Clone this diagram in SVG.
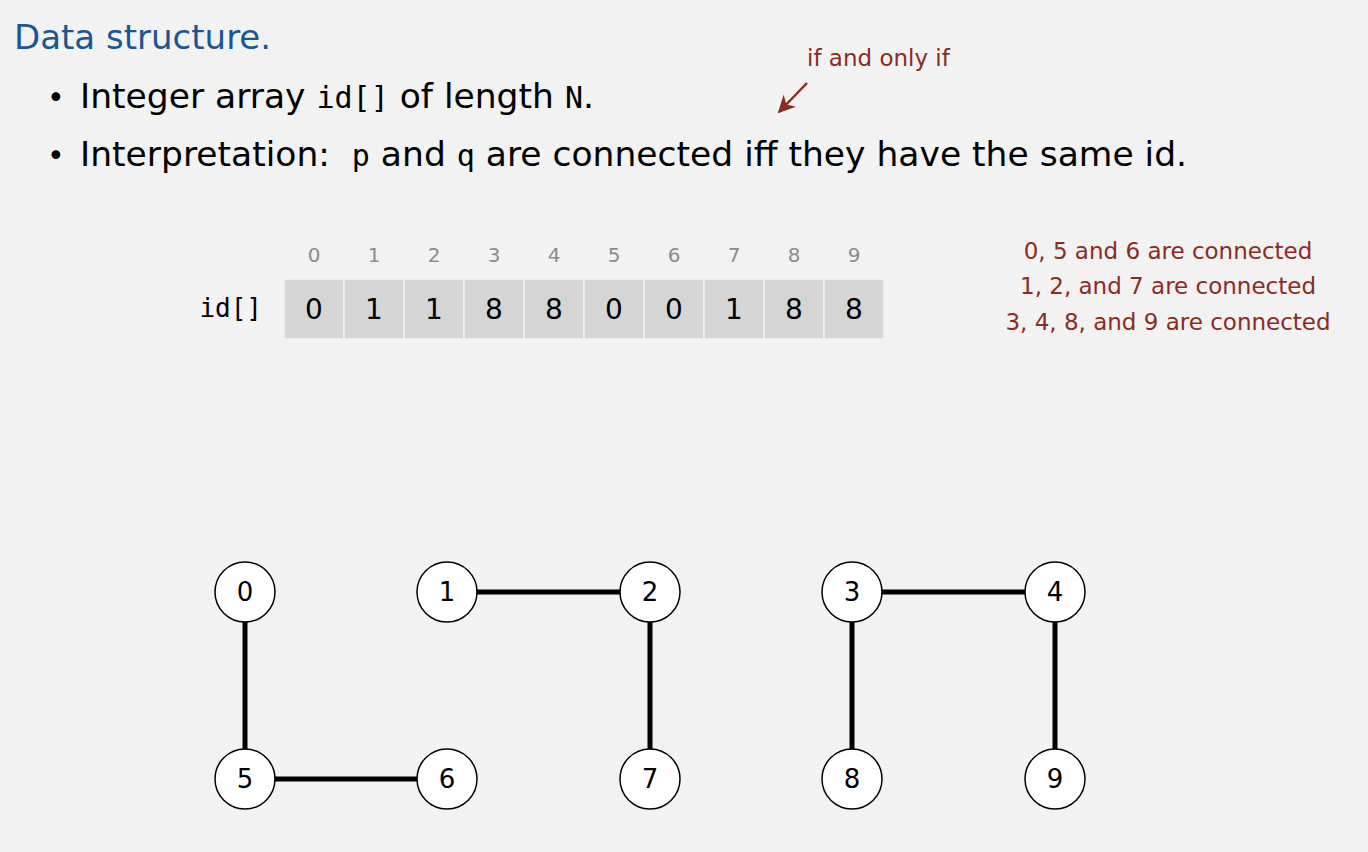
<svg xmlns="http://www.w3.org/2000/svg" width="1368" height="852" viewBox="0 0 1368 852">
<style>
.t{font-family:"DejaVu Sans","Liberation Sans",sans-serif;fill:#000}
.m{font-family:"DejaVu Sans Mono","Liberation Mono",monospace}
.red{font-family:"DejaVu Sans","Liberation Sans",sans-serif;fill:#8b2b22;font-size:23px}
.idx{font-family:"DejaVu Sans","Liberation Sans",sans-serif;fill:#8c8c8c;font-size:20px;text-anchor:middle}
.val{font-family:"DejaVu Sans","Liberation Sans",sans-serif;fill:#000;font-size:28px;text-anchor:middle}
.cell{fill:#d5d5d5;stroke:#f2f2f2;stroke-width:1.5}
.node circle{fill:#fff;stroke:#000;stroke-width:1.5}
.node text{font-family:"DejaVu Sans","Liberation Sans",sans-serif;font-size:26px;text-anchor:middle;fill:#000}
.edge{stroke:#000;stroke-width:5}
</style>
<defs>
<marker id="ah" viewBox="0 0 10 10" refX="9" refY="5" markerWidth="7" markerHeight="7" orient="auto" markerUnits="strokeWidth">
<path d="M0,0 L10,5 L0,10 L3,5 z" fill="#8b2b22"/>
</marker>
</defs>
<rect width="1368" height="852" fill="#f2f2f2"/>
<text x="14" y="49" class="t" style="fill:#1a5694;font-size:34px">Data structure.</text>
<text x="47" y="108" class="t" style="font-size:30px">•</text>
<text x="80" y="108" class="t" style="font-size:34.5px">Integer array <tspan class="m" style="font-size:30px">id[]</tspan> of length <tspan class="m" style="font-size:30px">N</tspan>.</text>
<text x="47" y="166" class="t" style="font-size:30px">•</text>
<text x="80" y="166" class="t" style="font-size:34.5px">Interpretation:&#160;&#160;<tspan class="m" style="font-size:30px">p</tspan> and <tspan class="m" style="font-size:30px">q</tspan> are connected iff they have the same id.</text>
<text x="807" y="66" class="red">if and only if</text>
<line x1="807" y1="83" x2="779" y2="112" stroke="#8b2b22" stroke-width="2.5" marker-end="url(#ah)"/>
<g id="array">
<text x="262" y="317" class="m" style="font-size:26px;text-anchor:end">id[]</text>
<rect class="cell" x="284" y="279" width="60" height="60"/>
<rect class="cell" x="344" y="279" width="60" height="60"/>
<rect class="cell" x="404" y="279" width="60" height="60"/>
<rect class="cell" x="464" y="279" width="60" height="60"/>
<rect class="cell" x="524" y="279" width="60" height="60"/>
<rect class="cell" x="584" y="279" width="60" height="60"/>
<rect class="cell" x="644" y="279" width="60" height="60"/>
<rect class="cell" x="704" y="279" width="60" height="60"/>
<rect class="cell" x="764" y="279" width="60" height="60"/>
<rect class="cell" x="824" y="279" width="60" height="60"/>
<text class="idx" x="314" y="262">0</text><text class="idx" x="374" y="262">1</text><text class="idx" x="434" y="262">2</text><text class="idx" x="494" y="262">3</text><text class="idx" x="554" y="262">4</text><text class="idx" x="614" y="262">5</text><text class="idx" x="674" y="262">6</text><text class="idx" x="734" y="262">7</text><text class="idx" x="794" y="262">8</text><text class="idx" x="854" y="262">9</text>
<text class="val" x="314" y="319">0</text><text class="val" x="374" y="319">1</text><text class="val" x="434" y="319">1</text><text class="val" x="494" y="319">8</text><text class="val" x="554" y="319">8</text><text class="val" x="614" y="319">0</text><text class="val" x="674" y="319">0</text><text class="val" x="734" y="319">1</text><text class="val" x="794" y="319">8</text><text class="val" x="854" y="319">8</text>
</g>
<g id="legend" class="red" style="text-anchor:middle">
<text x="1168" y="259">0, 5 and 6 are connected</text>
<text x="1168" y="294">1, 2, and 7 are connected</text>
<text x="1168" y="330">3, 4, 8, and 9 are connected</text>
</g>
<g id="edges">
<line class="edge" x1="245" y1="592" x2="245" y2="779"/>
<line class="edge" x1="245" y1="779" x2="447" y2="779"/>
<line class="edge" x1="447" y1="592" x2="650" y2="592"/>
<line class="edge" x1="650" y1="592" x2="650" y2="779"/>
<line class="edge" x1="852" y1="592" x2="1055" y2="592"/>
<line class="edge" x1="852" y1="592" x2="852" y2="779"/>
<line class="edge" x1="1055" y1="592" x2="1055" y2="779"/>
</g>
<g id="n0" class="node"><circle cx="245" cy="592" r="30"/><text x="245" y="601">0</text></g>
<g id="n1" class="node"><circle cx="447" cy="592" r="30"/><text x="447" y="601">1</text></g>
<g id="n2" class="node"><circle cx="650" cy="592" r="30"/><text x="650" y="601">2</text></g>
<g id="n3" class="node"><circle cx="852" cy="592" r="30"/><text x="852" y="601">3</text></g>
<g id="n4" class="node"><circle cx="1055" cy="592" r="30"/><text x="1055" y="601">4</text></g>
<g id="n5" class="node"><circle cx="245" cy="779" r="30"/><text x="245" y="788">5</text></g>
<g id="n6" class="node"><circle cx="447" cy="779" r="30"/><text x="447" y="788">6</text></g>
<g id="n7" class="node"><circle cx="650" cy="779" r="30"/><text x="650" y="788">7</text></g>
<g id="n8" class="node"><circle cx="852" cy="779" r="30"/><text x="852" y="788">8</text></g>
<g id="n9" class="node"><circle cx="1055" cy="779" r="30"/><text x="1055" y="788">9</text></g>
</svg>
